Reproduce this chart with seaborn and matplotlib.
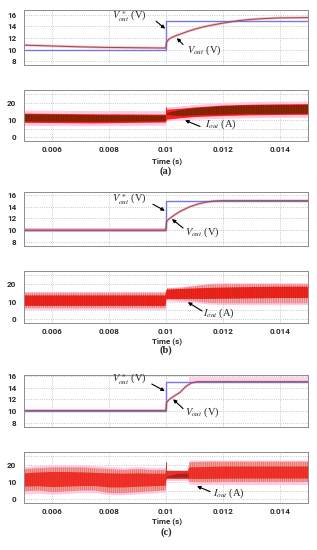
import numpy as np
import matplotlib
matplotlib.use("Agg")
import matplotlib.pyplot as plt
import seaborn as sns

# ---------------- data ----------------
x_ticks = [0.006, 0.008, 0.01, 0.012, 0.014]
x_ticklabels = ["0.006", "0.008", "0.01", "0.012", "0.014"]

# voltage reference (step 10 V -> 15 V at t = 0.01 s)
t_ref = [0.005, 0.01, 0.01, 0.015]
v_ref = [10.0, 10.0, 15.0, 15.0]

# output voltage, panel (a)
t_vout_a = [0.005, 0.006, 0.007, 0.008, 0.009, 0.00999, 0.01002, 0.0101, 0.0102, 0.0104,
            0.0106, 0.0108, 0.011, 0.0113, 0.0116, 0.012, 0.0125, 0.013, 0.0135, 0.014, 0.015]
v_out_a = [10.8, 10.65, 10.5, 10.4, 10.35, 10.3, 11.3, 11.8, 12.1, 12.5,
           12.85, 13.2, 13.5, 13.9, 14.2, 14.55, 14.95, 15.2, 15.35, 15.45, 15.5]

# output voltage, panel (b)
t_vout_b = [0.005, 0.00999, 0.01002, 0.0101, 0.0103, 0.0105, 0.0108, 0.0111, 0.0114,
            0.0117, 0.012, 0.015]
v_out_b = [10.05, 10.05, 11.5, 11.9, 12.6, 13.2, 13.9, 14.4, 14.75, 14.95, 15.0, 15.0]

# output voltage, panel (c)
t_vout_c = [0.005, 0.00999, 0.01002, 0.0101, 0.0103, 0.0105, 0.0107, 0.0109, 0.0111, 0.015]
v_out_c = [10.05, 10.05, 11.4, 11.9, 12.6, 13.2, 14.2, 14.8, 15.0, 15.0]
# voltage ripple bands (lower, upper)
t_vrip_b = [0.005, 0.00999]
vrip_b_lo = [9.75, 9.75]
vrip_b_hi = [10.4, 10.4]
t_vrip_c = [0.005, 0.00999, 0.01, 0.0108, 0.015]
vrip_c_lo = [9.85, 9.85, np.nan, 14.85, 14.85]
vrip_c_hi = [10.25, 10.25, np.nan, 15.8, 15.8]

# output current envelopes, panel (a)
t_i_a = [0.005, 0.0075, 0.00998, 0.01002, 0.0105, 0.011, 0.012, 0.013, 0.014, 0.015]
halo_a_lo = [6.8, 6.6, 7.0, 9.5, 10.0, 10.5, 11.0, 11.3, 11.5, 11.5]
halo_a_hi = [15.8, 15.4, 15.2, 17.5, 18.2, 19.0, 20.2, 20.8, 21.0, 21.0]
red_a_lo = [8.6, 8.3, 8.8, 10.5, 11.3, 12.0, 12.6, 13.0, 13.2, 13.3]
red_a_hi = [14.0, 13.6, 13.4, 16.3, 16.8, 17.6, 18.7, 19.2, 19.4, 19.5]
core_a_lo = [9.2, 8.9, 9.3, 13.0, 12.3, 12.8, 13.2, 13.5, 13.6, 13.7]
core_a_hi = [13.2, 12.8, 12.6, 14.0, 15.8, 16.8, 18.0, 18.5, 18.7, 18.8]

# output current envelopes, panel (b)
t_i_b = [0.005, 0.0075, 0.00998, 0.01002, 0.0105, 0.011, 0.0115, 0.012, 0.013, 0.014, 0.015]
halo_b_lo = [5.5, 5.5, 5.5, 10.3, 10.0, 9.5, 8.5, 8.3, 8.2, 8.2, 8.2]
halo_b_hi = [15.8, 15.8, 15.8, 18.0, 18.5, 19.5, 20.5, 20.8, 20.8, 20.8, 20.8]
spk_b_lo = [6.2, 6.2, 6.2, 11.0, 10.8, 10.2, 9.2, 9.0, 9.0, 9.0, 9.0]
spk_b_hi = [15.0, 15.0, 15.0, 17.5, 17.8, 18.8, 19.8, 20.0, 20.0, 20.0, 20.0]
red_b_lo = [7.5, 7.5, 7.5, 11.5, 11.5, 11.5, 11.5, 11.6, 11.8, 12.0, 12.0]
red_b_hi = [13.5, 13.5, 13.5, 16.8, 17.2, 17.5, 17.8, 18.0, 18.3, 18.5, 18.5]

# output current envelopes, panel (c)
t_i_c = [0.005, 0.0055, 0.006, 0.0065, 0.007, 0.0075, 0.008, 0.0085, 0.009, 0.0095,
         0.00998, 0.01002, 0.0104, 0.01078, 0.01082, 0.0115, 0.012, 0.013, 0.014, 0.015]
halo_c_lo = [3.0, 3.5, 2.8, 3.2, 3.8, 3.8, 2.5, 2.5, 3.0, 3.5, 4.0,
             10.8, 10.8, 10.8, 8.5, 8.5, 8.5, 8.5, 8.5, 8.5]
halo_c_hi = [19.0, 19.5, 20.0, 20.0, 20.0, 19.5, 19.0, 18.5, 19.0, 18.5, 18.5,
             17.3, 17.3, 17.3, 22.8, 22.8, 22.8, 22.8, 22.8, 22.8]
spk_c_lo = [4.5, 5.0, 4.0, 4.5, 5.0, 5.0, 3.5, 3.5, 4.0, 4.5, 5.0,
            11.8, 11.8, 11.8, 10.0, 9.8, 10.0, 10.0, 10.0, 10.0]
spk_c_hi = [17.5, 18.0, 18.5, 18.5, 18.5, 18.0, 17.5, 17.0, 17.5, 17.0, 17.0,
            16.4, 16.4, 16.4, 21.5, 21.8, 21.8, 21.8, 21.8, 21.8]
red_c_lo = [7.3, 7.5, 7.0, 7.3, 7.6, 7.6, 6.8, 6.8, 7.2, 7.5, 7.8,
            11.8, 11.8, 11.8, 11.8, 11.8, 11.9, 12.0, 12.0, 12.0]
red_c_hi = [15.0, 15.5, 15.8, 15.8, 15.6, 15.3, 15.0, 14.8, 15.0, 14.8, 14.8,
            16.4, 16.4, 16.4, 18.5, 18.8, 19.0, 19.0, 19.0, 19.0]
# dark core right after the step in (c)
t_core_c = [0.01002, 0.0104, 0.01078]
core_c_lo = [12.8, 12.8, 12.8]
core_c_hi = [13.5, 15.0, 15.2]

panels = ["(a)", "(b)", "(c)"]

# ---------------- style ----------------
sns.set_theme(style="white")
plt.rcParams["font.family"] = ["Roboto", "DejaVu Sans"]
plt.rcParams["mathtext.fontset"] = "stix"
plt.rcParams["hatch.linewidth"] = 0.3

C_REF = "#7878d8"
C_VOUT = "#8c5236"
C_PINK = "#ffc8e6"
C_RED = "#ff1c1c"
C_GRID = "#b8b8b8"
FS_TICK = 5.8

fig = plt.figure(figsize=(3.17, 5.5), dpi=100)

L, W = 24 / 317, 284 / 317
v_rects = [(10, 65), (192, 246), (375, 427)]
i_rects = [(90, 141), (271, 323), (452, 503)]
v_ylims = [(7.4, 16.8), (7.37, 16.46), (7.25, 16.15)]
time_y = [161, 341.5, 521.5]
caption_y = [171, 350.5, 532]


def rect(top, bottom):
    return [L, 1 - bottom / 550, W, (bottom - top) / 550]


def style_ax(ax, yticks, ylabels, minor=None):
    ax.set_xlim(0.005, 0.015)
    ax.set_xticks(x_ticks)
    ax.set_yticks(yticks)
    ax.set_yticklabels(ylabels)
    if minor is not None:
        ax.set_yticks(minor, minor=True)
    ax.grid(True, which="both", color=C_GRID, linestyle=":", linewidth=0.6)
    ax.tick_params(axis="both", which="both", length=0, labelsize=FS_TICK, colors="#2a2a2a")
    ax.tick_params(axis="y", pad=5.5)
    ax.tick_params(axis="x", pad=3.5)
    for lab in ax.get_yticklabels() + ax.get_xticklabels():
        lab.set_fontweight("bold")
    for sp in ax.spines.values():
        sp.set_color("#8c8c8c")
        sp.set_linewidth(0.7)


vout_data = [(t_vout_a, v_out_a), (t_vout_b, v_out_b), (t_vout_c, v_out_c)]

# annotation positions (data coords): text xy, arrow tail, arrow head
ann_ref = [((0.0081, 15.9), (0.00965, 14.9), (0.00997, 13.6)),
           ((0.0081, 15.3), (0.00954, 14.4), (0.00996, 13.3)),
           ((0.0081, 15.6), (0.0095, 14.6), (0.00996, 13.4))]
ann_out = [((0.01075, 10.0), (0.0106, 10.9), (0.01038, 12.0)),
           ((0.01067, 9.75), (0.0106, 10.4), (0.01021, 11.9)),
           ((0.01067, 9.8), (0.0106, 10.4), (0.01025, 12.0))]
ann_i = [((0.01137, 7.3), (0.0112, 6.2), (0.01067, 9.8)),
         ((0.0113, 3.3), (0.01127, 4.6), (0.01077, 9.6)),
         ((0.01166, 3.5), (0.01155, 4.4), (0.01109, 7.5))]

arrow = dict(arrowstyle="-|>", color="black", lw=0.8, mutation_scale=5,
             shrinkA=0, shrinkB=0)

for k in range(3):
    # ---------- voltage axes ----------
    axv = fig.add_axes(rect(*v_rects[k]))
    tv, vv = vout_data[k]
    if k == 1:
        axv.fill_between(t_vrip_b, vrip_b_lo, vrip_b_hi, color="#ff80b4", alpha=0.6, lw=0)
    if k == 2:
        axv.fill_between(t_vrip_c, vrip_c_lo, vrip_c_hi, color=C_PINK, alpha=0.8, lw=0)
    sns.lineplot(x=tv, y=vv, ax=axv, color="#ffb0d4", lw=1.8, sort=False, estimator=None)
    sns.lineplot(x=t_ref, y=v_ref, ax=axv, color=C_REF, lw=1.0, sort=False, estimator=None)
    sns.lineplot(x=tv, y=vv, ax=axv, color=C_VOUT, lw=0.7, sort=False, estimator=None)
    style_ax(axv, [8, 10, 12, 14, 16], ["8", "10", "12", "14", "16"])
    axv.set_ylim(*v_ylims[k])
    axv.set_xticklabels([])
    axv.set_xlabel("")

    txt, tail, head = ann_ref[k]
    axv.text(*txt, r"$V_{out}^{\;\ast}$ (V)", fontsize=7.5, family="Liberation Serif",
             ha="left", va="center")
    axv.annotate("", xy=head, xytext=tail, arrowprops=arrow)
    txt, tail, head = ann_out[k]
    axv.text(*txt, r"$V_{out}$ (V)", fontsize=7.5, family="Liberation Serif",
             ha="left", va="center")
    axv.annotate("", xy=head, xytext=tail, arrowprops=arrow)

    # ---------- current axes ----------
    axi = fig.add_axes(rect(*i_rects[k]))
    if k == 0:
        axi.fill_between(t_i_a, halo_a_lo, halo_a_hi, color=C_PINK, lw=0)
        axi.fill_between(t_i_a, red_a_lo, red_a_hi, color=C_RED, lw=0)
        axi.fill_between(t_i_a, core_a_lo, core_a_hi, facecolor="#7a2000",
                         hatch="|" * 10, edgecolor="#a8300c", lw=0)
        axi.vlines(0.01, 10, 17.5, color=C_RED, lw=0.8)
    elif k == 1:
        axi.fill_between(t_i_b, halo_b_lo, halo_b_hi, color=C_PINK, lw=0)
        axi.fill_between(t_i_b, spk_b_lo, spk_b_hi, facecolor="#ffaab8",
                         hatch="|" * 9, edgecolor="#a86038", lw=0)
        axi.fill_between(t_i_b, red_b_lo, red_b_hi, facecolor=C_RED,
                         hatch="|" * 9, edgecolor="#983812", lw=0)
    else:
        axi.fill_between(t_i_c, halo_c_lo, halo_c_hi, color=C_PINK, lw=0)
        axi.fill_between(t_i_c, spk_c_lo, spk_c_hi, facecolor="#ff9a9a",
                         hatch="|" * 8, edgecolor="#a06040", lw=0)
        axi.fill_between(t_i_c, red_c_lo, red_c_hi, facecolor="#ff2a2a",
                         hatch="|" * 8, edgecolor="#a84422", lw=0)
        axi.fill_between(t_core_c, core_c_lo, core_c_hi, color="#a82410", lw=0)
        axi.vlines(0.01, 12, 21.8, color="#c04020", lw=0.8)
    style_ax(axi, [0, 10, 20], ["0", "10", "20"], minor=[5, 15, 25])
    axi.set_ylim(-2.3, 27.5)
    axi.set_xticklabels(x_ticklabels)
    axi.set_xlabel("")

    txt, tail, head = ann_i[k]
    axi.text(*txt, r"$I_{out}$ (A)", fontsize=7.5, family="Liberation Serif",
             ha="left", va="center")
    axi.annotate("", xy=head, xytext=tail, arrowprops=arrow)

    fig.text(167 / 317, 1 - time_y[k] / 550, "Time (s)", fontsize=FS_TICK,
             fontweight="bold", color="#2a2a2a", ha="center", va="center")
    fig.text(166 / 317, 1 - caption_y[k] / 550, panels[k], fontsize=7.5, fontweight="bold",
             family="Liberation Serif", ha="center", va="center")

fig.savefig("out.png", dpi=100)
